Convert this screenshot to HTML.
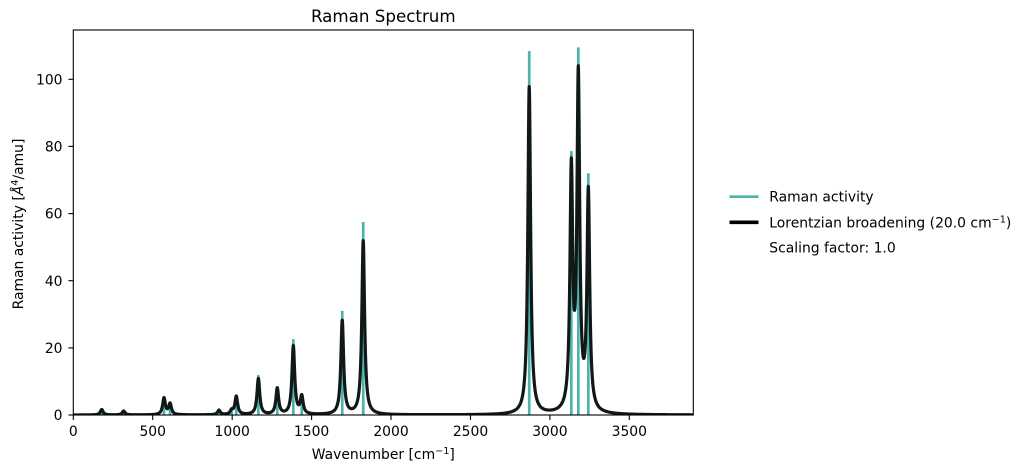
<!DOCTYPE html>
<html>
<head>
<meta charset="utf-8">
<style>
html,body{margin:0;padding:0;background:#fff;}
svg{display:block;}
text{font-family:"DejaVu Sans","Liberation Sans",sans-serif;fill:#000;}
</style>
</head>
<body>
<svg id="chart" width="1028" height="474" viewBox="0 0 1028 474" xmlns="http://www.w3.org/2000/svg">
  <rect x="0" y="0" width="1028" height="474" fill="#fff"/>
  <defs>
    <clipPath id="clip"><rect x="73.3" y="30" width="620" height="385"/></clipPath>
  </defs>
  <g id="sticks" clip-path="url(#clip)"></g>
  <path id="curve" d="" fill="none" stroke="#111818" stroke-width="3.2" stroke-linejoin="round" clip-path="url(#clip)"/>
  <!-- axes frame -->
  <rect x="73.3" y="30" width="620" height="385" fill="none" stroke="#000" stroke-width="1.1"/>
  <!-- x ticks -->
  <g stroke="#000" stroke-width="1.1">
    <line x1="73.3" y1="415" x2="73.3" y2="420"/>
    <line x1="152.7" y1="415" x2="152.7" y2="420"/>
    <line x1="232.2" y1="415" x2="232.2" y2="420"/>
    <line x1="311.6" y1="415" x2="311.6" y2="420"/>
    <line x1="391.0" y1="415" x2="391.0" y2="420"/>
    <line x1="470.5" y1="415" x2="470.5" y2="420"/>
    <line x1="549.9" y1="415" x2="549.9" y2="420"/>
    <line x1="629.3" y1="415" x2="629.3" y2="420"/>
  </g>
  <g font-size="13.9" text-anchor="middle">
    <text x="73.3" y="436">0</text>
    <text x="152.7" y="436">500</text>
    <text x="232.2" y="436">1000</text>
    <text x="311.6" y="436">1500</text>
    <text x="391.0" y="436">2000</text>
    <text x="470.5" y="436">2500</text>
    <text x="549.9" y="436">3000</text>
    <text x="629.3" y="436">3500</text>
  </g>
  <!-- y ticks -->
  <g stroke="#000" stroke-width="1.1">
    <line x1="68.4" y1="415" x2="73.3" y2="415"/>
    <line x1="68.4" y1="347.9" x2="73.3" y2="347.9"/>
    <line x1="68.4" y1="280.7" x2="73.3" y2="280.7"/>
    <line x1="68.4" y1="213.6" x2="73.3" y2="213.6"/>
    <line x1="68.4" y1="146.4" x2="73.3" y2="146.4"/>
    <line x1="68.4" y1="79.3" x2="73.3" y2="79.3"/>
  </g>
  <g font-size="13.9" text-anchor="end">
    <text x="62.5" y="420.1">0</text>
    <text x="62.5" y="353">20</text>
    <text x="62.5" y="285.8">40</text>
    <text x="62.5" y="218.7">60</text>
    <text x="62.5" y="151.5">80</text>
    <text x="62.5" y="84.4">100</text>
  </g>
  <!-- title -->
  <text x="383.3" y="22" font-size="16.7" text-anchor="middle">Raman Spectrum</text>
  <!-- x label -->
  <text x="383.3" y="459" font-size="13.9" text-anchor="middle">Wavenumber [cm<tspan font-size="9.7" dy="-5">−1</tspan><tspan dy="5">]</tspan></text>
  <!-- y label -->
  <text transform="translate(23,224) rotate(-90)" font-size="13.9" text-anchor="middle">Raman activity [<tspan font-style="italic">Å</tspan><tspan font-size="9.7" dy="-5">4</tspan><tspan dy="5">/amu]</tspan></text>
  <!-- legend -->
  <line x1="729.5" y1="196.7" x2="758.5" y2="196.7" stroke="#4db3ae" stroke-width="2.7"/>
  <text x="769.3" y="201.7" font-size="13.9">Raman activity</text>
  <line x1="729.5" y1="222.3" x2="758.5" y2="222.3" stroke="#000" stroke-width="3.6"/>
  <text x="769.3" y="227.3" font-size="13.9">Lorentzian broadening (20.0 cm<tspan font-size="9.7" dy="-5">−1</tspan><tspan dy="5">)</tspan></text>
  <text x="769.3" y="252.3" font-size="13.9">Scaling factor: 1.0</text>
</svg>
<script>
(function(){
  var peaks=[[179,1.8],[317,1.3],[571,5.5],[609,3.6],[917,1.5],[997,1.3],[1026,6.0],[1165,11.9],[1284,8.6],[1385,22.6],[1438,5.8],[1693,31.0],[1825,57.5],[2870,108.4],[3135,78.6],[3179,109.5],[3242,72.0]];
  function X(w){return 73.3+w*0.15886;}
  function Y(v){return 415-v*3.357;}
  var ns="http://www.w3.org/2000/svg";
  var g=document.getElementById('sticks');
  peaks.forEach(function(p){
    var l=document.createElementNS(ns,'line');
    l.setAttribute('x1',X(p[0]).toFixed(2));l.setAttribute('x2',X(p[0]).toFixed(2));
    l.setAttribute('y1','415');l.setAttribute('y2',Y(p[1]).toFixed(2));
    l.setAttribute('stroke','#4db3ae');l.setAttribute('stroke-width','2.7');
    g.appendChild(l);
  });
  var gam=10.3, d='';
  for(var w=0; w<=3910; w+=1){
    var s=0;
    for(var i=0;i<peaks.length;i++){
      var dx=(w-peaks[i][0])/gam;
      s+=0.9*peaks[i][1]/(1+dx*dx);
    }
    d+=(w===0?'M':'L')+X(w).toFixed(2)+' '+Y(s).toFixed(2);
  }
  document.getElementById('curve').setAttribute('d',d);
})();
</script>
</body>
</html>
